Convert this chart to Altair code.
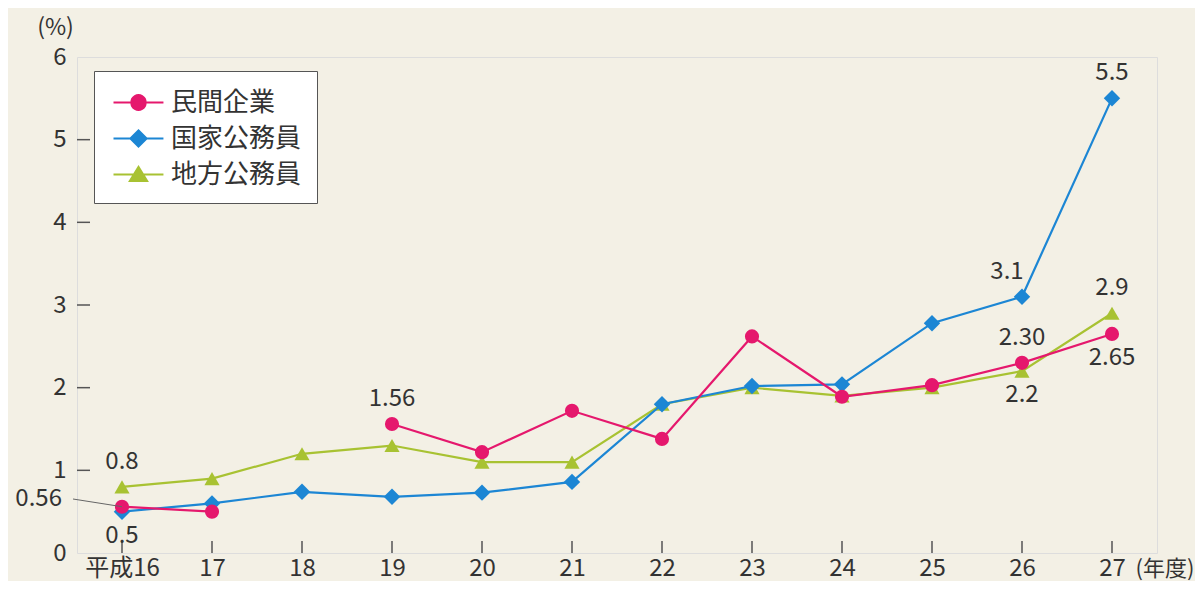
import altair as alt
import pandas as pd

# ---- data ----
years = ["16", "17", "18", "19", "20", "21", "22", "23", "24", "25", "26", "27"]
series_names = ["民間企業", "国家公務員", "地方公務員"]
private = [0.56, 0.50, None, 1.56, 1.22, 1.72, 1.38, 2.62, 1.89, 2.03, 2.30, 2.65]
national = [0.5, 0.6, 0.74, 0.68, 0.73, 0.86, 1.80, 2.02, 2.04, 2.78, 3.1, 5.5]
local = [0.8, 0.9, 1.2, 1.3, 1.1, 1.1, 1.8, 2.0, 1.9, 2.0, 2.2, 2.9]
y_ticks = [0, 1, 2, 3, 4, 5, 6]
inner_ticks = [1, 2, 3, 4, 5]

labels_above = [("地方公務員", "16", "0.8"), ("民間企業", "19", "1.56"),
                ("国家公務員", "27", "5.5"), ("地方公務員", "27", "2.9"),
                ("民間企業", "26", "2.30")]
labels_above_left = [("国家公務員", "26", "3.1")]
labels_below = [("国家公務員", "16", "0.5"), ("民間企業", "27", "2.65"),
                ("地方公務員", "26", "2.2")]
side_label = [("民間企業", "16", "0.56")]

colors = ["#e5186d", "#1c86d4", "#a8c232"]
shapes = ["circle", "diamond", "triangle-up"]
sizes = [200, 270, 230]
legend_paths = [
    "M-0.8,0H2.53M0.4,0A0.467,0.467,0,1,0,1.333,0A0.467,0.467,0,1,0,0.4,0Z",
    "M-0.8,0H2.53M0.867,-0.533L1.4,0L0.867,0.533L0.333,0Z",
    "M-0.8,0H2.53M0.867,-0.5L1.433,0.43L0.3,0.43Z",
]

FONT = "Noto Sans CJK JP"
TXT = "#333333"

rows = []
for name, vals in zip(series_names, [private, national, local]):
    seg = 0
    for yr, v in zip(years, vals):
        if v is None:
            seg += 1
            continue
        rows.append(dict(year=yr, series=name, value=v, seg=seg))
df = pd.DataFrame(rows)
lookup = {(r["series"], r["year"]): r["value"] for r in rows}


def label_df(items):
    return pd.DataFrame([dict(series=s, year=y, value=lookup[(s, y)], label=t)
                         for s, y, t in items])


x_enc = alt.X("year:O",
              scale=alt.Scale(domain=years, type="point", padding=0.5),
              axis=alt.Axis(title="(年度)", labelAngle=0, ticks=False, tickSize=0,
                            domain=False, grid=False, labelFontSize=24,
                            labelColor=TXT, labelFont=FONT,
                            labelBaseline="alphabetic", labelPadding=22,
                            labelExpr="datum.value == '16' ? '平成16' : datum.value",
                            titleFontSize=22, titleFontWeight="normal",
                            titleColor=TXT, titleFont=FONT, titleX=1058,
                            titleY=22, titleAlign="left",
                            titleBaseline="alphabetic"))
y_enc = alt.Y("value:Q",
              scale=alt.Scale(domain=[0, 6], nice=False, zero=True),
              axis=alt.Axis(title="(%)", values=y_ticks, ticks=False, tickSize=0,
                            domain=False, grid=False, labelFontSize=24,
                            labelColor=TXT, labelFont=FONT, labelPadding=11,
                            titleAngle=0, titleFontSize=23,
                            titleFontWeight="normal", titleColor=TXT,
                            titleFont=FONT, titleX=-22, titleY=-30,
                            titleAlign="center", titleBaseline="middle"))

layers = []

# inward ticks
layers.append(alt.Chart(pd.DataFrame({"year": years})).mark_rule(
    color="#555555", strokeWidth=1.5).encode(
    x=x_enc, y=alt.value(496), y2=alt.value(484)))
layers.append(alt.Chart(pd.DataFrame({"value": inner_ticks})).mark_rule(
    color="#555555", strokeWidth=1.5).encode(
    y=y_enc, x=alt.value(0), x2=alt.value(13)))

# series lines and markers (green, blue, pink from bottom to top)
for i in [2, 1, 0]:
    sub = df[df["series"] == series_names[i]]
    layers.append(alt.Chart(sub).mark_line(color=colors[i], strokeWidth=2.2).encode(
        x=x_enc, y=y_enc, detail="seg:N"))
    layers.append(alt.Chart(sub).mark_point(
        filled=True, shape=shapes[i], size=sizes[i], color=colors[i],
        opacity=1).encode(x=x_enc, y=y_enc))

# legend carrier
legend = alt.Legend(title=None, orient="none", legendX=17, legendY=14,
                    symbolSize=900, symbolStrokeWidth=2.2, symbolOpacity=1,
                    labelFontSize=26, labelFont=FONT, labelColor=TXT,
                    strokeColor="#555555", fillColor="white", padding=15,
                    rowPadding=6, labelOffset=29)
layers.append(alt.Chart(df).mark_point(filled=True, opacity=0).encode(
    x=x_enc, y=y_enc,
    fill=alt.Fill("series:N", scale=alt.Scale(domain=series_names, range=colors),
                  legend=legend),
    stroke=alt.Stroke("series:N", scale=alt.Scale(domain=series_names, range=colors),
                      legend=legend),
    shape=alt.Shape("series:N", scale=alt.Scale(domain=series_names, range=legend_paths),
                    legend=legend)))

# value labels
layers.append(alt.Chart(label_df(labels_above)).mark_text(
    dy=-25, fontSize=24, color=TXT, font=FONT).encode(x=x_enc, y=y_enc, text="label:N"))
layers.append(alt.Chart(label_df(labels_above_left)).mark_text(
    dy=-25, dx=-15, fontSize=24, color=TXT, font=FONT).encode(x=x_enc, y=y_enc, text="label:N"))
layers.append(alt.Chart(label_df(labels_below)).mark_text(
    dy=24, fontSize=24, color=TXT, font=FONT).encode(x=x_enc, y=y_enc, text="label:N"))

# 0.56 side label with leader line
side = label_df(side_label)
layers.append(alt.Chart(side).mark_rule(color="#666666", strokeWidth=1).encode(
    x=x_enc, y=y_enc, x2=alt.value(-4), y2=alt.value(442)))
layers.append(alt.Chart(side).mark_text(
    align="right", dy=-8, fontSize=24, color=TXT, font=FONT).encode(
    x=alt.value(-15), y=y_enc, text="label:N"))

chart = alt.layer(*layers).properties(
    width=1080, height=496,
    autosize=alt.AutoSizeParams(type="none"),
    padding={"left": 69, "top": 49, "right": 38, "bottom": 28},
    background="#f3f0e5",
).configure_view(fill="white", stroke="#666666", strokeWidth=2).configure_legend(
    strokeWidth=2).configure(font=FONT)

chart.save("out.html", embed_options={"renderer": "svg", "actions": False})
